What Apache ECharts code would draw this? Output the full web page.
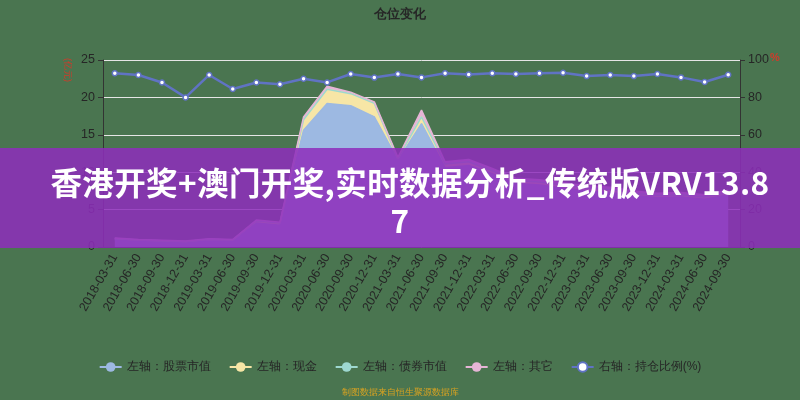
<!DOCTYPE html>
<html><head><meta charset="utf-8">
<script src="https://cdn.jsdelivr.net/npm/echarts@6/dist/echarts.min.js"></script>
<style>
html,body{margin:0;padding:0;background:#4a7550;}
#wrap{position:relative;width:800px;height:400px;}
#c{width:800px;height:400px;}
#banner{position:absolute;left:0;top:148px;width:800px;height:100px;background:rgba(142,45,188,0.86);
color:#fff;font-family:"Noto Sans CJK SC","Noto Sans",sans-serif;font-weight:bold;font-size:31.5px;letter-spacing:0.4px;
text-align:center;line-height:38px;padding-top:14px;box-sizing:border-box;white-space:nowrap;}
#banner .l1{position:relative;left:10px;}
</style></head>
<body><div id="wrap"><div id="c"></div>
<div id="banner"><span class="l1">香港开奖+澳门开奖,实时数据分析_传统版VRV13.8</span><br>7</div></div>
<script>
const categories = ['2018-03-31','2018-06-30','2018-09-30','2018-12-31','2019-03-31','2019-06-30','2019-09-30','2019-12-31',
'2020-03-31','2020-06-30','2020-09-30','2020-12-31','2021-03-31','2021-06-30','2021-09-30','2021-12-31',
'2022-03-31','2022-06-30','2022-09-30','2022-12-31','2023-03-31','2023-06-30','2023-09-30','2023-12-31',
'2024-03-31','2024-06-30','2024-09-30'];
const stockValue = [1.0,0.85,0.75,0.7,0.9,0.85,3.2,2.9,15.6,19.2,18.9,17.4,11.6,16.5,10.6,10.9,9.8,8.5,8.3,7.9,7.5,7.3,6.9,6.6,6.7,6.4,7.0];
const cashValue = [0.15,0.1,0.1,0.05,0.15,0.1,0.3,0.3,1.4,1.9,1.6,1.8,0.2,0.9,0.5,0.5,0.4,0.4,0.4,0.4,0.4,0.4,0.3,0.3,0.3,0.3,0.3];
const bondValue = [0,0,0,0,0,0,0,0,0,0,0,0,0,0,0,0,0,0,0,0,0,0,0,0,0,0,0];
const otherValue = [0.05,0.05,0.05,0.05,0.05,0.05,0.1,0.1,0.4,0.4,0.2,0.2,0.2,0.9,0.3,0.3,0.3,0.3,0.3,0.3,0.3,0.3,0.3,0.3,0.3,0.3,0.3];
const positionRatio = [92.9,92.0,88.0,80.0,92.0,84.5,88.0,87.0,90.0,88.0,92.5,90.6,92.5,90.7,92.9,92.3,92.9,92.5,92.9,93.2,91.4,92.0,91.4,92.5,90.7,88.2,92.1];
const leftTicks = {min:0,max:25,interval:5};
const rightTicks = {min:0,max:100,interval:20};

const chart = echarts.init(document.getElementById('c'));
const txt = '#262626';
function area(name, data, color){
  return {name, type:'line', stack:'total', yAxisIndex:0, data, symbol:'circle', symbolSize:9, showSymbol:false,
    itemStyle:{color:color}, lineStyle:{color:color,width:1.5}, areaStyle:{color:color,opacity:1}};
}
chart.setOption({
  backgroundColor:'#4a7550',
  animation:false,
  title:{text:'仓位变化',left:'center',top:3,textStyle:{fontSize:13,fontWeight:'bold',color:txt}},
  grid:{left:103,right:60,top:60,bottom:153},
  legend:{bottom:22,itemGap:18,itemWidth:22,itemHeight:12,textStyle:{fontSize:12,color:txt},
    data:['左轴：股票市值','左轴：现金','左轴：债券市值','左轴：其它','右轴：持仓比例(%)']},
  xAxis:{type:'category',data:categories,boundaryGap:true,
    axisLine:{lineStyle:{color:'#333'}},axisTick:{lineStyle:{color:'#333'}},
    axisLabel:{rotate:60,fontSize:12.5,color:txt,interval:0}},
  yAxis:[
    {type:'value',min:leftTicks.min,max:leftTicks.max,interval:leftTicks.interval,
     axisLine:{show:true,lineStyle:{color:'#333'}},axisTick:{show:true},
     axisLabel:{fontSize:12.5,color:txt},splitLine:{lineStyle:{color:'#e6e6e6'}}},
    {type:'value',min:rightTicks.min,max:rightTicks.max,interval:rightTicks.interval,
     axisLine:{show:true,lineStyle:{color:'#333'}},axisTick:{show:true},
     axisLabel:{fontSize:12.5,color:txt},splitLine:{show:false}}
  ],
  graphic:[
    {type:'text',left:63,top:58,rotation:-Math.PI/2,style:{text:'(亿元)',fill:'#d23a2a',fontSize:9}},
    {type:'text',left:770,top:52,style:{text:'%',fill:'#d23a2a',fontSize:11,fontWeight:'bold'}},
    {type:'text',left:'center',top:388,style:{text:'制图数据来自恒生聚源数据库',fill:'#d9a321',fontSize:9}}
  ],
  series:[
    area('左轴：股票市值',stockValue,'#9db9e2'),
    area('左轴：现金',cashValue,'#f7e6a6'),
    area('左轴：债券市值',bondValue,'#9ed8d0'),
    area('左轴：其它',otherValue,'#e6b5d6'),
    {name:'右轴：持仓比例(%)',type:'line',yAxisIndex:1,data:positionRatio,symbol:'circle',symbolSize:5,
     itemStyle:{color:'#ffffff',borderColor:'#6073c4',borderWidth:1.5},lineStyle:{color:'#6073c4',width:2.5}}
  ]
});
</script></body></html>
